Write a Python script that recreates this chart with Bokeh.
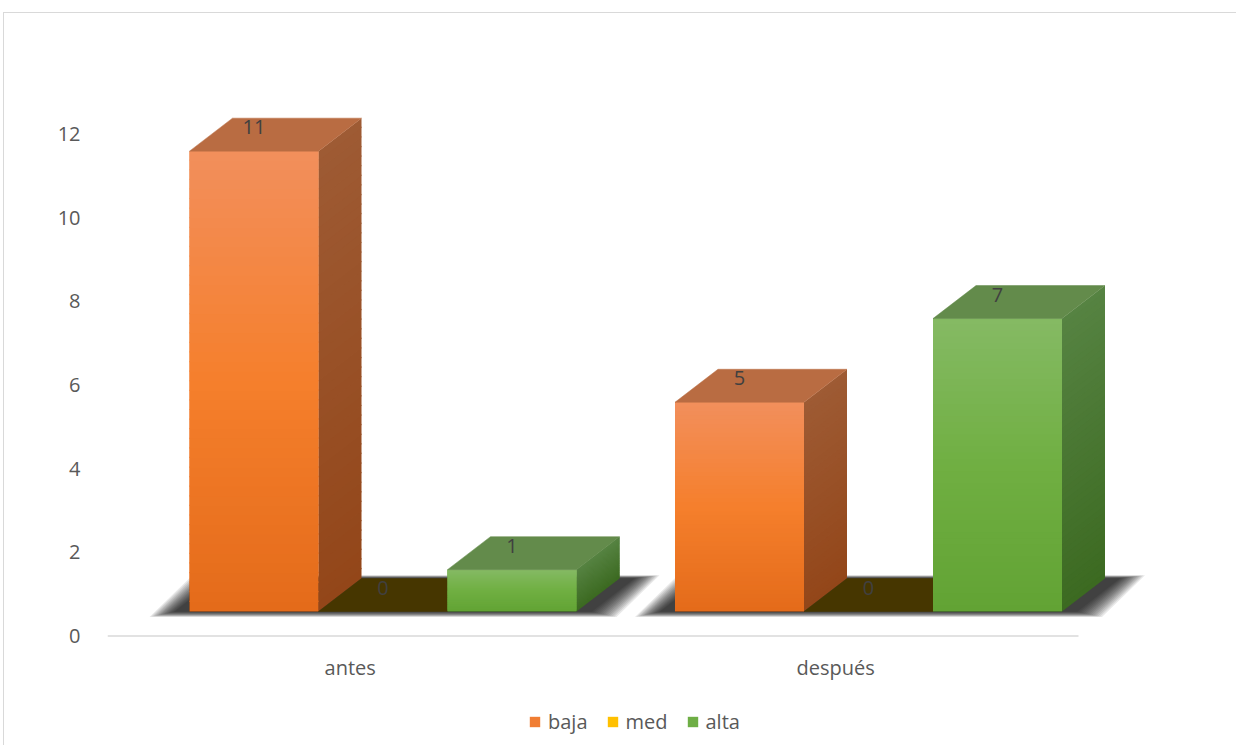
import numpy as np
from bokeh.plotting import figure
from bokeh.models import Range1d, FixedTicker, Legend, LegendItem
from bokeh.embed import file_html
from bokeh.resources import INLINE
from bokeh.core.properties import value

# ---------------- data ----------------
categories = ["antes", "después"]
series = ["baja", "med", "alta"]
baja = [11, 5]
med = [0, 0]
alta = [1, 7]
y_ticks = [0, 2, 4, 6, 8, 10, 12]

values = {"baja": baja, "med": med, "alta": alta}

# ---------------- style ----------------
FONT = "Open Sans"
PX_X = 485.5          # px per category
PX_Y = 41.85          # px per value unit
FRAME_W_PX = 1059
FRAME_H_PX = 725
Y0_FROM_TOP_PX = 615.5
BAR_W = 129 / PX_X
DEPTH_X = 43 / PX_X
DEPTH_Y = 33 / PX_Y
OFF_X = 82 / PX_X
BASE = 24.5 / PX_Y

FRONT = {
    "baja": ["#F28F5C", "#F57F2C", "#E46B1A"],
    "med": ["#FFCC4D", "#FFC000", "#E6AD00"],
    "alta": ["#85BA64", "#70AF42", "#62A334"],
}
SIDE = {
    "baja": ["#9E5B34", "#934619"],
    "med": ["#8A6A10", "#6E5200"],
    "alta": ["#568342", "#3C6A21"],
}
TOP = {"baja": "#B96C42", "med": "#463600", "alta": "#638B4B"}
LEGEND_COLORS = {"baja": "#F07D33", "med": "#FFC000", "alta": "#6EAE45"}
TEXT_DARK = "#404040"
TEXT_GRAY = "#595959"


def hex2rgb(h):
    h = h.lstrip("#")
    return np.array([int(h[i:i + 2], 16) for i in (0, 2, 4)], dtype=float)


def rgb2hex(c):
    c = np.clip(np.round(c), 0, 255).astype(int)
    return "#%02x%02x%02x" % tuple(c)


def grad(stops, t):
    n = len(stops) - 1
    pos = t * n
    i = min(int(pos), n - 1)
    f = pos - i
    return rgb2hex(hex2rgb(stops[i]) * (1 - f) + hex2rgb(stops[i + 1]) * f)


y_top = Y0_FROM_TOP_PX / PX_Y
y_bot = -(FRAME_H_PX - Y0_FROM_TOP_PX) / PX_Y

p = figure(frame_width=FRAME_W_PX, frame_height=FRAME_H_PX,
           output_backend="svg", toolbar_location=None,
           x_range=Range1d(0, FRAME_W_PX / PX_X), y_range=Range1d(y_bot, y_top),
           x_axis_location=None,
           min_border_left=104, min_border_right=70, min_border_top=8, min_border_bottom=0)
p.styles = {"margin-top": "12px", "margin-left": "3px",
            "box-shadow": "inset 1px 1px 0 0 #D9D9D9"}
p.xgrid.visible = False
p.ygrid.visible = False
p.outline_line_color = None
p.background_fill_color = "white"
p.border_fill_alpha = 0

n_ser = len(series)

# legend renderers: solid front faces underneath the gradient faces
legend_renderers = {}
for si, s in enumerate(series):
    lefts = [ci + OFF_X + si * BAR_W for ci in range(len(categories))]
    rights = [l + BAR_W for l in lefts]
    bots = [BASE] * len(categories)
    tops = [BASE + v for v in values[s]]
    legend_renderers[s] = p.quad(left=lefts, right=rights, bottom=bots, top=tops,
                                 fill_color=LEGEND_COLORS[s], line_color=None)

# blurred floor shadow under each group
for ci, cat in enumerate(categories):
    xl = ci + OFF_X
    xr = xl + n_ser * BAR_W
    yb = BASE
    for k in range(14):
        ex_px = 40 - 1.9 * k
        ey_px = 5.5 - 0.4 * k
        ex, ey = ex_px / PX_X, ey_px / PX_Y
        xs = [xl - ex, xr + ex, xr + DEPTH_X + ex, xl + DEPTH_X - ex]
        ys = [yb - ey, yb - ey, yb + DEPTH_Y + ey * 0.6, yb + DEPTH_Y + ey * 0.6]
        p.patch(xs, ys, fill_color="black", fill_alpha=0.09, line_color=None)

# 3D bars
N = 48
OVER = 1.2 / PX_Y
label_x, label_y, label_t = [], [], []
for ci, cat in enumerate(categories):
    for si, s in enumerate(series):
        v = values[s][ci]
        xl = ci + OFF_X + si * BAR_W
        xr = xl + BAR_W
        yb = BASE
        yt = BASE + v
        if v > 0:
            sxs, sys_, scol = [], [], []
            lefts, rights, bots, tops, cols = [], [], [], [], []
            for k in range(N):
                y1 = yb + (yt - yb) * k / N
                y2 = min(yb + (yt - yb) * (k + 1) / N + OVER, yt)
                sxs.append([xr, xr + DEPTH_X, xr + DEPTH_X, xr])
                sys_.append([y1, y1 + DEPTH_Y, y2 + DEPTH_Y, y2])
                scol.append(grad(SIDE[s], 1 - (k + 0.5) / N))
                lefts.append(xl); rights.append(xr); bots.append(y1); tops.append(y2)
                cols.append(grad(FRONT[s], 1 - (k + 0.5) / N))
            p.patches(sxs, sys_, fill_color=scol, line_color=None)
            p.quad(left=lefts, right=rights, bottom=bots, top=tops,
                   fill_color=cols, line_color=None)
        # top face
        p.patch([xl, xr, xr + DEPTH_X, xl + DEPTH_X], [yt, yt, yt + DEPTH_Y, yt + DEPTH_Y],
                fill_color=TOP[s], line_color=TOP[s], line_width=0.5)
        label_x.append(xl + BAR_W / 2)
        label_y.append(yt)
        label_t.append(str(v))

p.text(x=label_x, y=label_y, text=label_t, y_offset=-24,
       text_align="center", text_baseline="middle",
       text_font=value(FONT), text_font_size="20px", text_color=TEXT_DARK)

# category axis: line and labels
p.segment(x0=[0], x1=[len(categories)], y0=[0], y1=[0], line_color="#D9D9D9", line_width=1.6)
p.text(x=[i + 0.5 for i in range(len(categories))], y=[0] * len(categories), text=categories,
       y_offset=31.5, text_align="center", text_baseline="middle",
       text_font=value(FONT), text_font_size="20px", text_color=TEXT_GRAY)

# value axis
p.yaxis.ticker = FixedTicker(ticks=y_ticks)
p.yaxis.axis_line_color = None
p.yaxis.major_tick_line_color = None
p.yaxis.minor_tick_line_color = None
p.yaxis.major_label_standoff = 21
p.yaxis.major_label_text_font = FONT
p.yaxis.major_label_text_font_size = "20px"
p.yaxis.major_label_text_color = TEXT_GRAY

# legend (inside frame, bottom area)
items = [LegendItem(label=s, renderers=[legend_renderers[s]]) for s in series]
legend = Legend(items=items, orientation="horizontal", location=(421, 10),
                glyph_width=13, glyph_height=13, label_standoff=7, spacing=18,
                label_text_font=FONT, label_text_font_size="20px", label_text_color=TEXT_GRAY,
                border_line_color=None, background_fill_alpha=0, padding=0, margin=0)
p.add_layout(legend)

open("out.html", "w").write(file_html(p, INLINE))
